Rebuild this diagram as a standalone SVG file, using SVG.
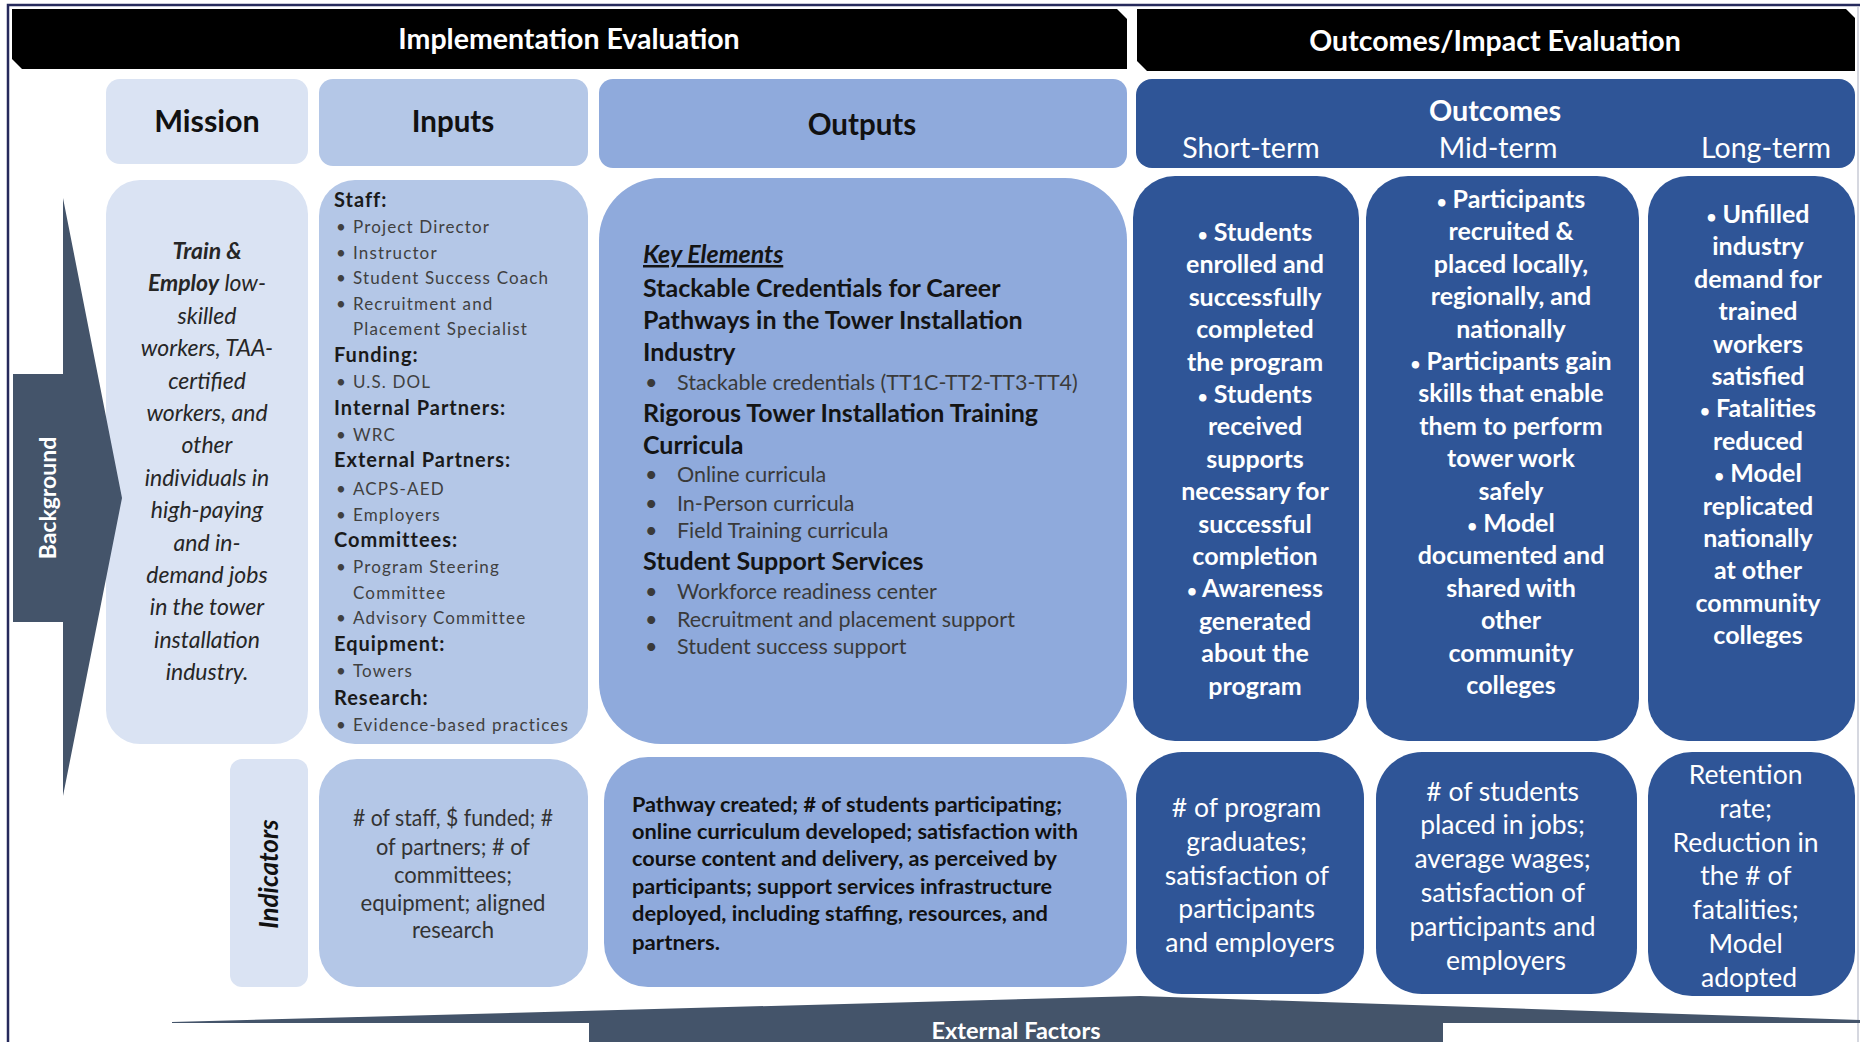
<svg xmlns="http://www.w3.org/2000/svg" width="1860" height="1042" viewBox="0 0 1860 1042">
  <style>
    text { font-family: Lato, "Liberation Sans", sans-serif; }
    .bar { fill: #000; }
    .bar-t { font-size: 28.5px; font-weight: 700; fill: #fff; text-anchor: middle; }
    .c1 { fill: #dae3f3; }
    .c2 { fill: #b4c7e7; }
    .c3 { fill: #8faadc; }
    .c4 { fill: #2f5597; }
    .slate { fill: #44546a; }
    .col-t { font-size: 29.5px; font-weight: 700; fill: #111; text-anchor: middle; }
    .mission-t { font-size: 23px; font-style: italic; fill: #262626; text-anchor: middle; }
    .in-h { font-size: 20px; font-weight: 700; fill: #1a1a1a; letter-spacing: 1px; }
    .in-i { font-size: 17px; fill: #404040; letter-spacing: 1.15px; }
    .out-h { font-size: 25px; font-weight: 700; fill: #141414; }
    .out-i { font-size: 21.5px; fill: #3a3a3a; }
    .oc-t { font-size: 25px; font-weight: 700; fill: #fff; text-anchor: middle; }
    .oc-i { font-size: 26.5px; fill: #fff; text-anchor: middle; }
    .term { font-size: 28.5px; fill: #fff; text-anchor: middle; }
    .ind-in { font-size: 23px; fill: #333; text-anchor: middle; }
    .ind-out { font-size: 20px; font-weight: 700; fill: #111; }
    .dot { font-size: 17px; }
  </style>

  <!-- outer frame -->
  <g id="frame">
    <rect x="0" y="0" width="1860" height="1042" fill="#fff"/>
    <path d="M8 1042 V5 H1860" fill="none" stroke="#262a5c" stroke-width="2.5"/>
    <path d="M1858 6 V1042" fill="none" stroke="#c8cbd6" stroke-width="1.5"/>
  </g>

  <!-- top banners -->
  <g id="implementation-evaluation">
    <path class="bar" d="M12 9 H1117 L1127 19 V69 H22 L12 59 Z"/>
    <text class="bar-t" x="569" y="49">Implementation Evaluation</text>
  </g>
  <g id="outcomes-impact-evaluation">
    <path class="bar" d="M1137 9 H1846 L1855 18 V71 H1147 L1137 61 Z"/>
    <text class="bar-t" x="1495" y="51">Outcomes/Impact Evaluation</text>
  </g>

  <!-- column headings -->
  <g id="mission-head">
    <rect class="c1" x="106" y="79" width="202" height="85" rx="14"/>
    <text class="col-t" x="207" y="132" style="font-size:30.5px">Mission</text>
  </g>
  <g id="inputs-head">
    <rect class="c2" x="319" y="79" width="269" height="87" rx="14"/>
    <text class="col-t" x="453" y="132">Inputs</text>
  </g>
  <g id="outputs-head">
    <rect class="c3" x="599" y="79" width="528" height="89" rx="14"/>
    <text class="col-t" x="862" y="135">Outputs</text>
  </g>
  <g id="outcomes-head">
    <rect class="c4" x="1136" y="79" width="719" height="89" rx="16"/>
    <text class="col-t" x="1495" y="121" style="fill:#fff;font-size:28.8px">Outcomes</text>
    <text class="term" x="1251" y="158">Short-term</text>
    <text class="term" x="1498" y="158">Mid-term</text>
    <text class="term" x="1766" y="158">Long-term</text>
  </g>

  <!-- mission -->
  <g id="mission">
    <rect class="c1" x="106" y="180" width="202" height="564" rx="34"/>
    <text class="mission-t" x="207" y="259"><tspan font-weight="700">Train &amp;</tspan></text>
    <text class="mission-t" x="207" y="291.4"><tspan font-weight="700">Employ</tspan> low-</text>
    <text class="mission-t" x="207" y="323.8">skilled</text>
    <text class="mission-t" x="207" y="356.2">workers, TAA-</text>
    <text class="mission-t" x="207" y="388.6">certified</text>
    <text class="mission-t" x="207" y="421">workers, and</text>
    <text class="mission-t" x="207" y="453.4">other</text>
    <text class="mission-t" x="207" y="485.8">individuals in</text>
    <text class="mission-t" x="207" y="518.2">high-paying</text>
    <text class="mission-t" x="207" y="550.6">and in-</text>
    <text class="mission-t" x="207" y="583">demand jobs</text>
    <text class="mission-t" x="207" y="615.4">in the tower</text>
    <text class="mission-t" x="207" y="647.8">installation</text>
    <text class="mission-t" x="207" y="680.2">industry.</text>
  </g>

  <!-- inputs -->
  <g id="inputs">
    <rect class="c2" x="319" y="180" width="269" height="564" rx="36"/>
    <text class="in-h" x="334" y="207">Staff:</text>
    <text class="in-i" x="336" y="232.5">•<tspan x="353">Project Director</tspan></text>
    <text class="in-i" x="336" y="258.5">•<tspan x="353">Instructor</tspan></text>
    <text class="in-i" x="336" y="283.5">•<tspan x="353">Student Success Coach</tspan></text>
    <text class="in-i" x="336" y="309.5">•<tspan x="353">Recruitment and</tspan></text>
    <text class="in-i" x="353" y="334.5">Placement Specialist</text>
    <text class="in-h" x="334" y="362">Funding:</text>
    <text class="in-i" x="336" y="388">•<tspan x="353">U.S. DOL</tspan></text>
    <text class="in-h" x="334" y="415">Internal Partners:</text>
    <text class="in-i" x="336" y="441">•<tspan x="353">WRC</tspan></text>
    <text class="in-h" x="334" y="467">External Partners:</text>
    <text class="in-i" x="336" y="494.5">•<tspan x="353">ACPS-AED</tspan></text>
    <text class="in-i" x="336" y="521">•<tspan x="353">Employers</tspan></text>
    <text class="in-h" x="334" y="547">Committees:</text>
    <text class="in-i" x="336" y="573">•<tspan x="353">Program Steering</tspan></text>
    <text class="in-i" x="353" y="599">Committee</text>
    <text class="in-i" x="336" y="624">•<tspan x="353">Advisory Committee</tspan></text>
    <text class="in-h" x="334" y="651">Equipment:</text>
    <text class="in-i" x="336" y="677">•<tspan x="353">Towers</tspan></text>
    <text class="in-h" x="334" y="705">Research:</text>
    <text class="in-i" x="336" y="731">•<tspan x="353">Evidence-based practices</tspan></text>
  </g>

  <!-- outputs -->
  <g id="outputs">
    <rect class="c3" x="599" y="178" width="528" height="566" rx="62"/>
    <text class="out-h" x="643" y="263" font-style="italic" text-decoration="underline">Key Elements</text>
    <text class="out-h" x="643" y="296.5">Stackable Credentials for Career</text>
    <text class="out-h" x="643" y="328.5">Pathways in the Tower Installation</text>
    <text class="out-h" x="643" y="360.5">Industry</text>
    <text class="out-i" x="645" y="389.5">•<tspan x="677">Stackable credentials (TT1C-TT2-TT3-TT4)</tspan></text>
    <text class="out-h" x="643" y="421.5">Rigorous Tower Installation Training</text>
    <text class="out-h" x="643" y="453.5">Curricula</text>
    <text class="out-i" x="645" y="482">•<tspan x="677">Online curricula</tspan></text>
    <text class="out-i" x="645" y="510.5">•<tspan x="677">In-Person curricula</tspan></text>
    <text class="out-i" x="645" y="537.5">•<tspan x="677">Field Training curricula</tspan></text>
    <text class="out-h" x="643" y="569.5">Student Support Services</text>
    <text class="out-i" x="645" y="598.5">•<tspan x="677">Workforce readiness center</tspan></text>
    <text class="out-i" x="645" y="626.5">•<tspan x="677">Recruitment and placement support</tspan></text>
    <text class="out-i" x="645" y="653.5">•<tspan x="677">Student success support</tspan></text>
  </g>

  <!-- outcomes -->
  <g id="short-term">
    <rect class="c4" x="1133" y="176" width="226" height="565" rx="42"/>
    <text class="oc-t" x="1255" y="241"><tspan class="dot">•</tspan> Students</text>
    <text class="oc-t" x="1255" y="273.4">enrolled and</text>
    <text class="oc-t" x="1255" y="305.8">successfully</text>
    <text class="oc-t" x="1255" y="338.2">completed</text>
    <text class="oc-t" x="1255" y="370.6">the program</text>
    <text class="oc-t" x="1255" y="403"><tspan class="dot">•</tspan> Students</text>
    <text class="oc-t" x="1255" y="435.4">received</text>
    <text class="oc-t" x="1255" y="467.8">supports</text>
    <text class="oc-t" x="1255" y="500.2">necessary for</text>
    <text class="oc-t" x="1255" y="532.6">successful</text>
    <text class="oc-t" x="1255" y="565">completion</text>
    <text class="oc-t" x="1255" y="597.4"><tspan class="dot">•</tspan> Awareness</text>
    <text class="oc-t" x="1255" y="629.8">generated</text>
    <text class="oc-t" x="1255" y="662.2">about the</text>
    <text class="oc-t" x="1255" y="694.6">program</text>
  </g>
  <g id="mid-term">
    <rect class="c4" x="1366" y="176" width="273" height="565" rx="42"/>
    <text class="oc-t" x="1511" y="208"><tspan class="dot">•</tspan> Participants</text>
    <text class="oc-t" x="1511" y="240.4">recruited &amp;</text>
    <text class="oc-t" x="1511" y="272.8">placed locally,</text>
    <text class="oc-t" x="1511" y="305.2">regionally, and</text>
    <text class="oc-t" x="1511" y="337.6">nationally</text>
    <text class="oc-t" x="1511" y="370"><tspan class="dot">•</tspan> Participants gain</text>
    <text class="oc-t" x="1511" y="402.4">skills that enable</text>
    <text class="oc-t" x="1511" y="434.8">them to perform</text>
    <text class="oc-t" x="1511" y="467.2">tower work</text>
    <text class="oc-t" x="1511" y="499.6">safely</text>
    <text class="oc-t" x="1511" y="532"><tspan class="dot">•</tspan> Model</text>
    <text class="oc-t" x="1511" y="564.4">documented and</text>
    <text class="oc-t" x="1511" y="596.8">shared with</text>
    <text class="oc-t" x="1511" y="629.2">other</text>
    <text class="oc-t" x="1511" y="661.6">community</text>
    <text class="oc-t" x="1511" y="694">colleges</text>
  </g>
  <g id="long-term">
    <rect class="c4" x="1648" y="176" width="207" height="565" rx="40"/>
    <text class="oc-t" x="1758" y="223"><tspan class="dot">•</tspan> Unfilled</text>
    <text class="oc-t" x="1758" y="255.4">industry</text>
    <text class="oc-t" x="1758" y="287.8">demand for</text>
    <text class="oc-t" x="1758" y="320.2">trained</text>
    <text class="oc-t" x="1758" y="352.6">workers</text>
    <text class="oc-t" x="1758" y="385">satisfied</text>
    <text class="oc-t" x="1758" y="417.4"><tspan class="dot">•</tspan> Fatalities</text>
    <text class="oc-t" x="1758" y="449.8">reduced</text>
    <text class="oc-t" x="1758" y="482.2"><tspan class="dot">•</tspan> Model</text>
    <text class="oc-t" x="1758" y="514.6">replicated</text>
    <text class="oc-t" x="1758" y="547">nationally</text>
    <text class="oc-t" x="1758" y="579.4">at other</text>
    <text class="oc-t" x="1758" y="611.8">community</text>
    <text class="oc-t" x="1758" y="644.2">colleges</text>
  </g>

  <!-- indicator row -->
  <g id="indicators-label">
    <rect class="c1" x="230" y="759" width="78" height="228" rx="12"/>
    <text x="0" y="0" transform="translate(278 874) rotate(-90)" text-anchor="middle" font-size="26" font-weight="700" font-style="italic" fill="#111">Indicators</text>
  </g>
  <g id="inputs-indicators">
    <rect class="c2" x="319" y="759" width="269" height="228" rx="38"/>
    <text class="ind-in" x="453" y="826" textLength="200" lengthAdjust="spacingAndGlyphs"># of staff, $ funded; #</text>
    <text class="ind-in" x="453" y="854.5" textLength="154" lengthAdjust="spacingAndGlyphs">of partners; # of</text>
    <text class="ind-in" x="453" y="883" textLength="118" lengthAdjust="spacingAndGlyphs">committees;</text>
    <text class="ind-in" x="453" y="910.5" textLength="185" lengthAdjust="spacingAndGlyphs">equipment; aligned</text>
    <text class="ind-in" x="453" y="938" textLength="82" lengthAdjust="spacingAndGlyphs">research</text>
  </g>
  <g id="outputs-indicators">
    <rect class="c3" x="604" y="757" width="523" height="230" rx="44"/>
    <text class="ind-out" x="632" y="812" textLength="430" lengthAdjust="spacingAndGlyphs">Pathway created; # of students participating;</text>
    <text class="ind-out" x="632" y="839" textLength="446" lengthAdjust="spacingAndGlyphs">online curriculum developed; satisfaction with</text>
    <text class="ind-out" x="632" y="866" textLength="425" lengthAdjust="spacingAndGlyphs">course content and delivery, as perceived by</text>
    <text class="ind-out" x="632" y="894" textLength="420" lengthAdjust="spacingAndGlyphs">participants; support services infrastructure</text>
    <text class="ind-out" x="632" y="921" textLength="416" lengthAdjust="spacingAndGlyphs">deployed, including staffing, resources, and</text>
    <text class="ind-out" x="632" y="950" textLength="88" lengthAdjust="spacingAndGlyphs">partners.</text>
  </g>
  <g id="short-term-indicators">
    <rect class="c4" x="1136" y="752" width="228" height="242" rx="46"/>
    <text class="oc-i" x="1250" y="817">
      <tspan x="1250"># of program</tspan>
      <tspan x="1250" dy="33.8">graduates;</tspan>
      <tspan x="1250" dy="33.8">satisfaction of</tspan>
      <tspan x="1250" dy="33.8">participants</tspan>
      <tspan x="1250" dy="33.8">and employers</tspan>
    </text>
  </g>
  <g id="mid-term-indicators">
    <rect class="c4" x="1376" y="752" width="261" height="242" rx="46"/>
    <text class="oc-i" x="1506" y="800.5">
      <tspan x="1506"># of students</tspan>
      <tspan x="1506" dy="33.8">placed in jobs;</tspan>
      <tspan x="1506" dy="33.8">average wages;</tspan>
      <tspan x="1506" dy="33.8">satisfaction of</tspan>
      <tspan x="1506" dy="33.8">participants and</tspan>
      <tspan x="1506" dy="33.8">employers</tspan>
    </text>
  </g>
  <g id="long-term-indicators">
    <rect class="c4" x="1648" y="752" width="207" height="244" rx="44"/>
    <text class="oc-i" x="1749" y="784">
      <tspan x="1749">Retention</tspan>
      <tspan x="1749" dy="33.8">rate;</tspan>
      <tspan x="1749" dy="33.8">Reduction in</tspan>
      <tspan x="1749" dy="33.8">the # of</tspan>
      <tspan x="1749" dy="33.8">fatalities;</tspan>
      <tspan x="1749" dy="33.8">Model</tspan>
      <tspan x="1749" dy="33.8">adopted</tspan>
    </text>
  </g>

  <!-- side block arrow: Background -->
  <g id="background">
    <path class="slate" d="M13 374 H63 V198 L122 498 L63 796 V622 H13 Z"/>
    <text x="0" y="0" transform="translate(56 498) rotate(-90)" text-anchor="middle" font-size="23" font-weight="700" fill="#fff">Background</text>
  </g>

  <!-- bottom block arrow: External Factors -->
  <g id="external-factors">
    <path class="slate" d="M172 1022 L1140 996 L1860 1020 V1023 H1443 V1042 H589 V1023 H172 Z"/>
    <text x="1016" y="1039" text-anchor="middle" font-size="22" font-weight="700" fill="#fff" textLength="169" lengthAdjust="spacingAndGlyphs">External Factors</text>
  </g>
</svg>
